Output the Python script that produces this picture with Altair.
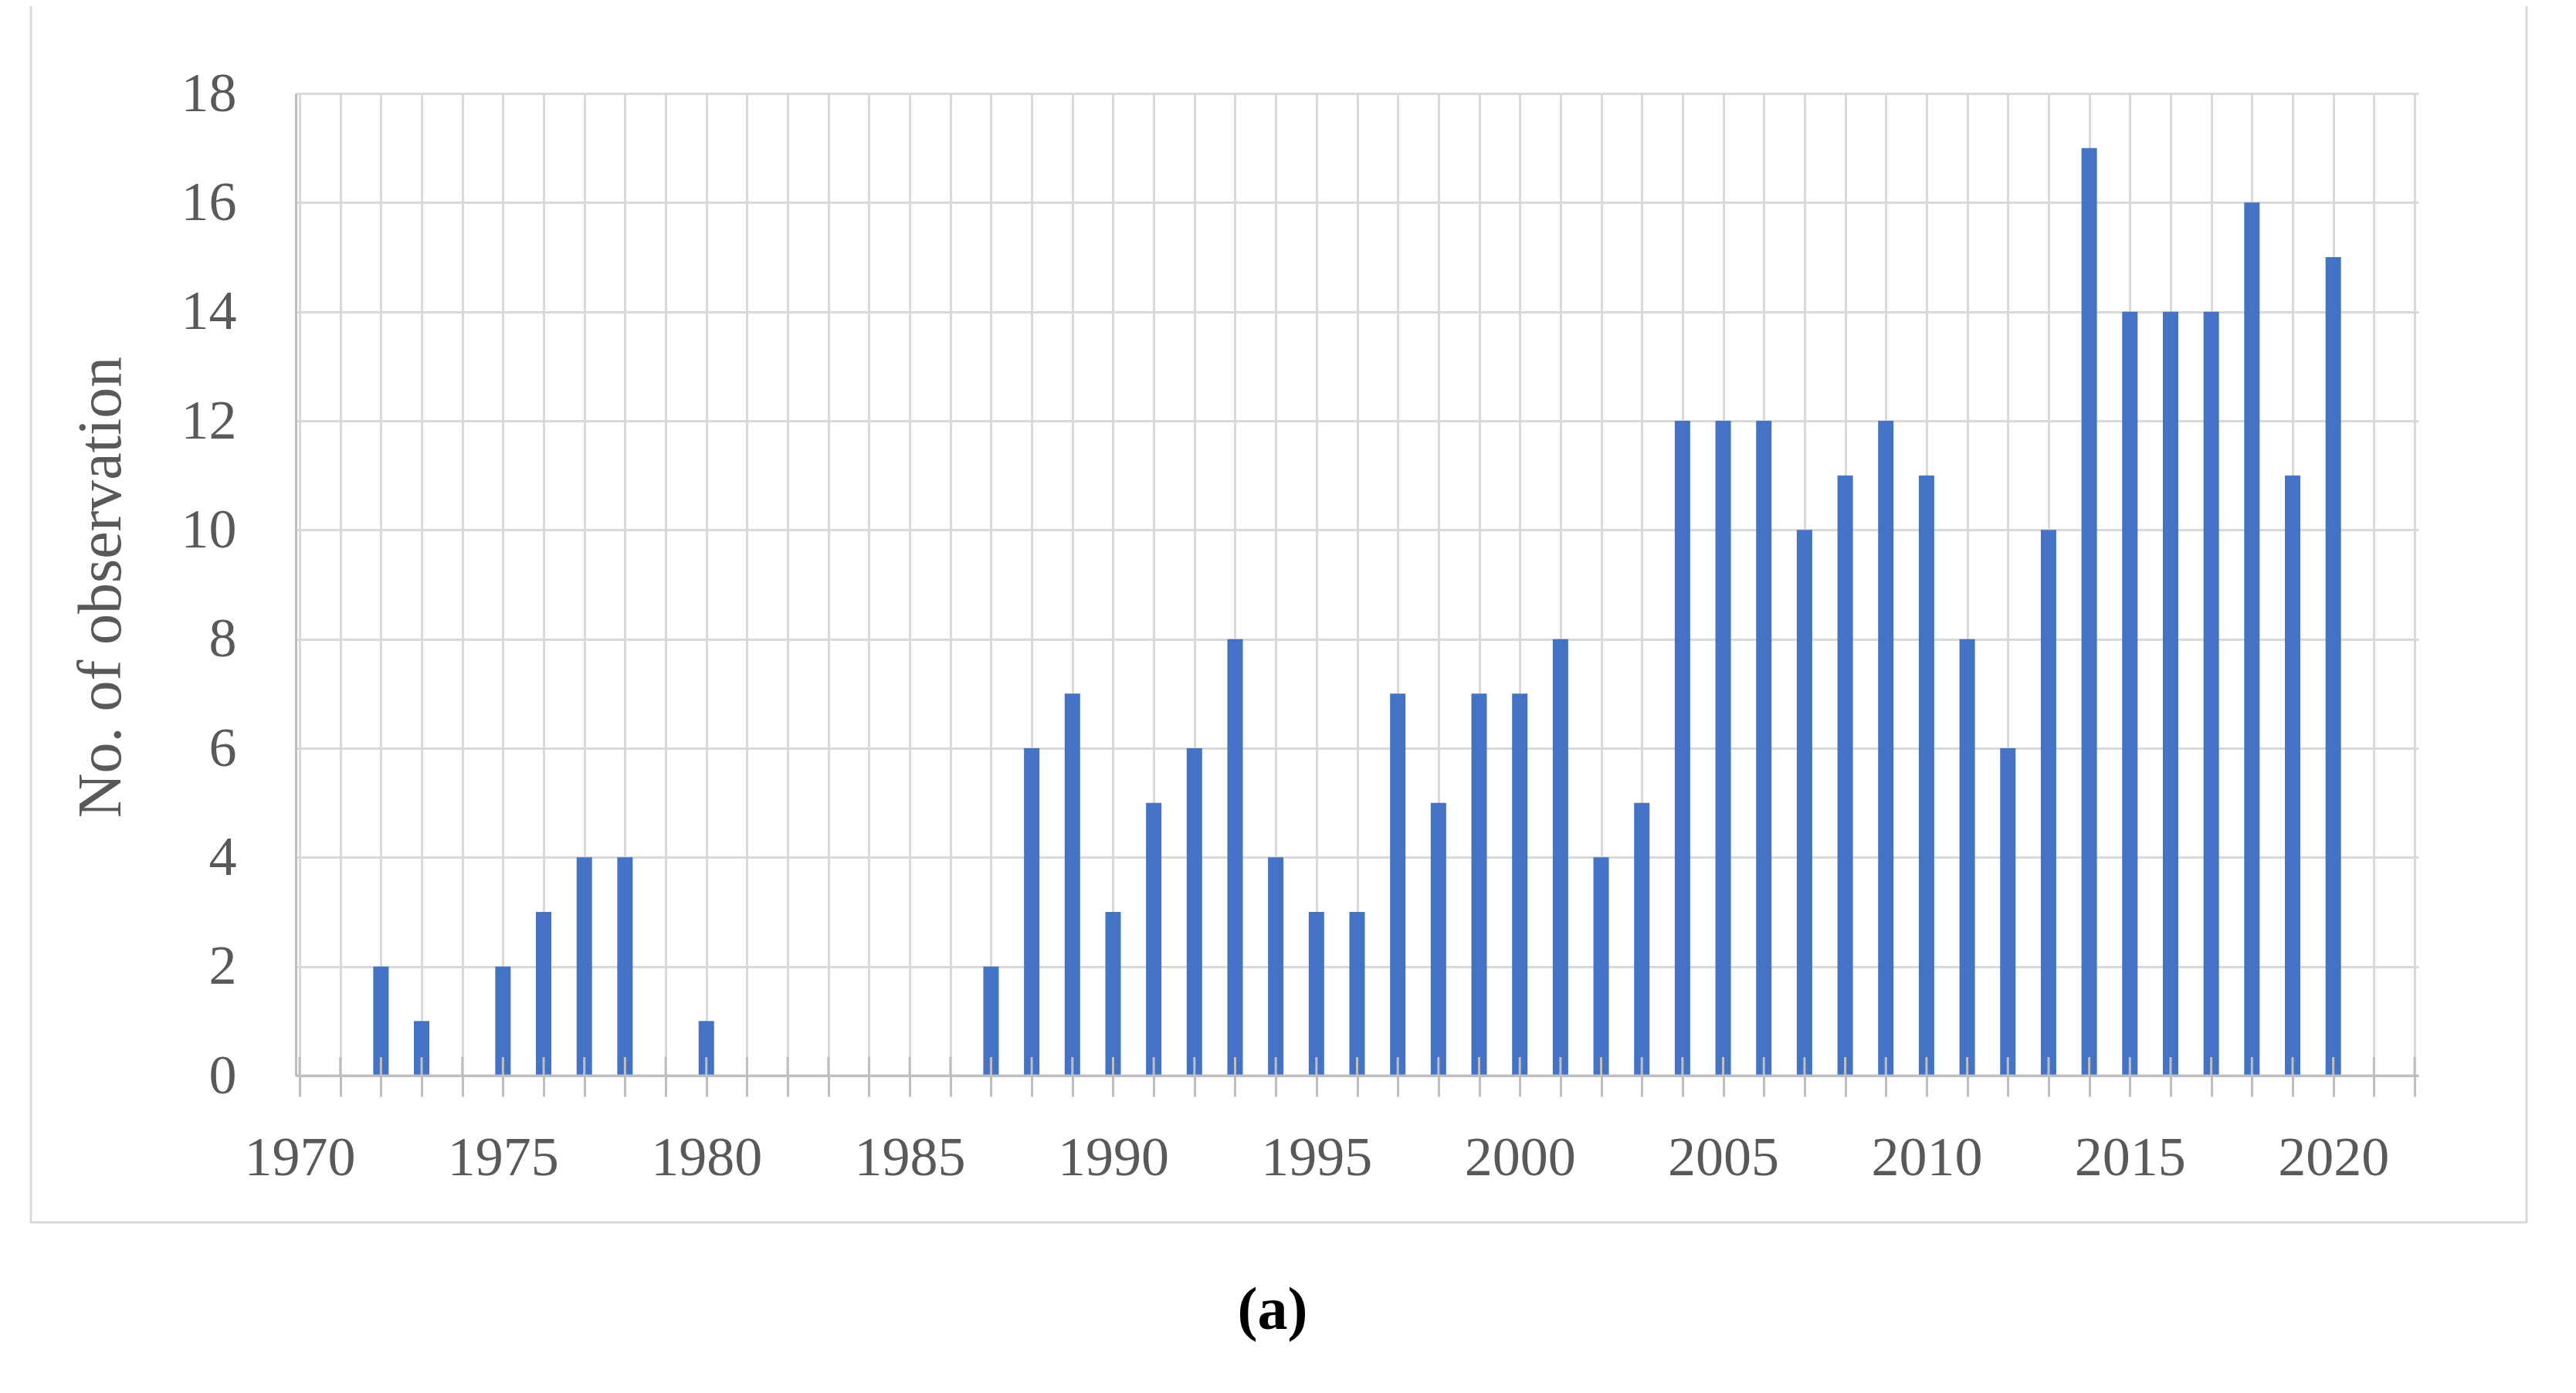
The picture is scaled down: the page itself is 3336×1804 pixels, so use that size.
import altair as alt
import pandas as pd

# ---- data ----
years = [1972, 1973, 1975, 1976, 1977, 1978, 1980,
         1987, 1988, 1989, 1990, 1991, 1992, 1993, 1994, 1995, 1996,
         1997, 1998, 1999, 2000, 2001, 2002, 2003, 2004, 2005, 2006,
         2007, 2008, 2009, 2010, 2011, 2012, 2013, 2014, 2015, 2016,
         2017, 2018, 2019, 2020]
counts = [2, 1, 2, 3, 4, 4, 1,
          2, 6, 7, 3, 5, 6, 8, 4, 3, 3,
          7, 5, 7, 7, 8, 4, 5, 12, 12, 12,
          10, 11, 12, 11, 8, 6, 10, 17, 14, 14,
          14, 16, 11, 15]
x_ticks = list(range(1970, 2023))          # a tick at every year
y_ticks = [0, 2, 4, 6, 8, 10, 12, 14, 16, 18]
y_title = "No. of observation"
caption = "(a)"

df = pd.DataFrame({"year": years, "count": counts})
tick_df = pd.DataFrame({"year": x_ticks})

W, H = 2749, 1272
FONT = "Liberation Serif"
TXT = "#595959"
GRID = "#d9d9d9"
AXC = "#bfbfbf"

xscale = alt.Scale(domain=[1970, 2022], nice=False, zero=False)
yscale = alt.Scale(domain=[0, 18], nice=False)

bars = alt.Chart(df).mark_bar(size=20, color="#4472C4").encode(
    x=alt.X("year:Q", scale=xscale,
            axis=alt.Axis(values=x_ticks, format="d",
                          labelExpr="datum.value % 5 == 0 ? datum.label : ''",
                          title=None, grid=True, gridColor=GRID, gridWidth=3,
                          domainColor=AXC, domainWidth=3,
                          tickColor=AXC, tickWidth=3, tickSize=27,
                          labelPadding=44, labelFont=FONT, labelFontSize=72,
                          labelColor=TXT, labelFlush=False, labelOverlap=False)),
    y=alt.Y("count:Q", scale=yscale,
            axis=alt.Axis(values=y_ticks, title=y_title, grid=True,
                          gridColor=GRID, gridWidth=3,
                          domainColor=AXC, domainWidth=3, ticks=False,
                          labelPadding=77, labelFont=FONT, labelFontSize=72,
                          labelColor=TXT,
                          titleFont=FONT, titleFontSize=80, titleColor=TXT,
                          titleFontWeight="normal", titleAngle=270,
                          titleX=-252, titleY=639, titleAlign="center",
                          titleBaseline="middle")),
)

# inner half of the cross ticks, drawn over the bars
inner_ticks = alt.Chart(tick_df).mark_rule(color=AXC, strokeWidth=3).encode(
    x=alt.X("year:Q", scale=xscale),
    y=alt.value(H),
    y2=alt.value(H - 24),
)

# x axis line drawn over the bar bottoms
base_line = alt.Chart(alt.Data(values=[{}])).mark_rule(
    color=AXC, strokeWidth=3
).encode(x=alt.value(0), x2=alt.value(W), y=alt.value(H))

frame = alt.Chart(alt.Data(values=[{}])).mark_rect(
    fillOpacity=0, stroke=GRID, strokeWidth=3
).encode(
    x=alt.value(-343), x2=alt.value(2889),
    y=alt.value(-200), y2=alt.value(1462),
)

cap = alt.Chart(alt.Data(values=[{"t": caption}])).mark_text(
    font=FONT, fontSize=78, fontWeight="bold", color="black",
    align="center", baseline="middle"
).encode(
    text="t:N", x=alt.value(1265), y=alt.value(1577),
)

chart = alt.layer(frame, bars, inner_ticks, base_line, cap).properties(
    width=W, height=H,
    autosize=alt.AutoSizeParams(type="none"),
    padding={"left": 375, "top": 113, "right": 196, "bottom": 403},
    background="white",
).configure_view(stroke=None)

chart.save("out.html", embed_options={"renderer": "svg", "actions": False})
